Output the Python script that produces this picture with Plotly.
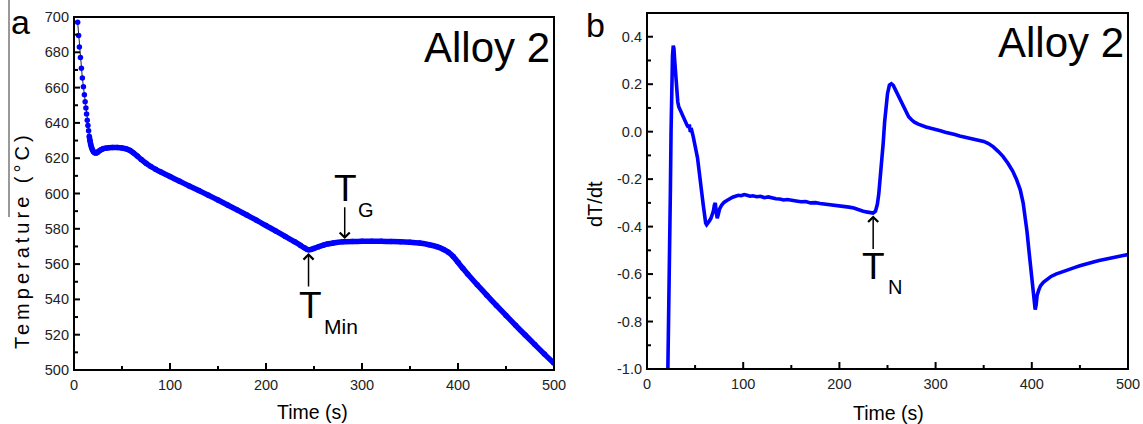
import plotly.graph_objects as go

# ---------------- data: panel a (temperature curve) ----------------
time_a_dots = [3.8, 4.8, 5.6, 6.7, 7.7, 8.7, 9.8, 10.8, 11.6, 12.4, 13.1, 13.8, 14.5, 15.2,
               15.9, 16.6, 17.4, 18.3, 19.3, 20.4, 21.6, 23.0, 24.4, 25.8, 27.3, 28.8, 30.5]
temp_a_dots = [697, 689.5, 683, 677, 671, 665.5, 660.5, 656, 652, 648.5, 645, 641.5, 638.5, 635.5,
               632.5, 630, 627.8, 626, 624.6, 623.6, 623.1, 622.9, 623.3, 623.9, 624.5, 625, 625.4]
time_a_line = [33, 36, 40, 45, 50, 55, 58, 62, 66, 70, 75, 80, 85, 90, 100, 110, 120, 130, 140,
               150, 160, 170, 180, 190, 200, 210, 220, 230, 236, 240, 243, 245, 247, 250, 255,
               260, 265, 270, 280, 290, 300, 310, 320, 330, 340, 350, 360, 370, 378, 385, 390,
               395, 400, 405, 410, 420, 430, 440, 450, 460, 470, 480, 490, 500]
temp_a_line = [625.7, 625.9, 626.0, 626.0, 625.8, 625.2, 624.5, 623.0, 621.2, 619.3, 617.1, 615.3,
               613.7, 612.3, 609.6, 606.9, 604.3, 601.7, 599.0, 596.3, 593.5, 590.7, 587.8, 584.9,
               581.8, 578.8, 575.7, 572.6, 570.6, 569.2, 568.3, 568.1, 568.3, 568.9, 569.9, 570.8,
               571.5, 572.0, 572.6, 572.8, 572.9, 572.9, 572.9, 572.8, 572.7, 572.4, 571.9, 571.0,
               569.9, 568.3, 566.7, 564.3, 561.0, 557.6, 554.4, 548.3, 542.4, 536.6, 530.9, 525.3,
               519.8, 514.4, 509.0, 503.8]

# ---------------- data: panel b (dT/dt) ----------------
time_b = [21.0, 22.5, 23.5, 24.3, 25.0, 25.7, 26.5, 27.3, 28.0, 28.6, 29.2, 30.0, 31.0, 32.0,
          33.0, 34.0, 35.5, 37.0, 38.5, 40.0, 41.5, 43.0, 44.0, 45.0, 46.5, 48.0, 49.5, 51.0,
          52.5, 54.0, 55.5, 57.0, 58.5, 60.0, 61.0, 62.0, 63.5, 65.0, 66.5, 68.0, 69.0, 70.0,
          71.0, 72.0, 73.0, 74.0, 75.5, 77.5, 80, 83, 86, 89, 92, 95, 98, 101, 104, 107, 110,
          114, 118, 122, 126, 130, 134, 138, 142, 146, 150, 155, 160, 165, 170, 175, 180, 185,
          190, 195, 200, 205, 210, 215, 220, 224, 228, 232, 235, 237.5, 239.5, 241, 242.5, 244,
          245.5, 247, 248.5, 250, 252, 254, 256, 258, 260, 263, 266, 269, 272, 275, 278, 282,
          286, 290, 295, 300, 305, 310, 315, 320, 325, 330, 335, 340, 345, 350, 355, 360, 365,
          370, 375, 380, 384, 388, 391, 393, 395, 397, 399, 401, 402.5, 403.5, 404.5, 405.5,
          407, 409, 412, 416, 420, 425, 430, 435, 440, 445, 450, 455, 460, 465, 470, 475, 480,
          485, 490, 495, 500]
dtdt_b = [-1.2, -0.85, -0.55, -0.25, 0.0, 0.2, 0.32, 0.362, 0.35, 0.31, 0.27, 0.21, 0.16, 0.125,
          0.105, 0.095, 0.088, 0.075, 0.05, 0.035, 0.028, 0.018, 0.03, 0.0, 0.005, -0.02, -0.045,
          -0.08, -0.11, -0.16, -0.2, -0.26, -0.31, -0.36, -0.385, -0.392, -0.385, -0.375, -0.365,
          -0.35, -0.335, -0.31, -0.3, -0.34, -0.365, -0.35, -0.325, -0.31, -0.298, -0.29, -0.282,
          -0.276, -0.272, -0.268, -0.27, -0.265, -0.268, -0.272, -0.27, -0.274, -0.272, -0.278,
          -0.275, -0.28, -0.283, -0.284, -0.288, -0.286, -0.29, -0.292, -0.295, -0.294, -0.3,
          -0.299, -0.303, -0.305, -0.307, -0.31, -0.312, -0.315, -0.318, -0.322, -0.33, -0.334,
          -0.338, -0.342, -0.343, -0.335, -0.305, -0.26, -0.2, -0.13, -0.05, 0.04, 0.11, 0.16,
          0.196, 0.202, 0.195, 0.178, 0.16, 0.135, 0.108, 0.085, 0.063, 0.05, 0.04, 0.032, 0.025,
          0.02, 0.014, 0.01, 0.004, -0.002, -0.006, -0.012, -0.018, -0.022, -0.026, -0.03,
          -0.034, -0.041, -0.05, -0.064, -0.083, -0.104, -0.132, -0.165, -0.2, -0.245, -0.3,
          -0.35, -0.42, -0.5, -0.59, -0.67, -0.72, -0.75, -0.73, -0.69, -0.67, -0.65, -0.635,
          -0.62, -0.61, -0.6, -0.592, -0.585, -0.578, -0.572, -0.565, -0.558, -0.552, -0.548,
          -0.543, -0.538, -0.534, -0.53, -0.526, -0.522, -0.518]

# ticks
x_ticks = [0, 100, 200, 300, 400, 500]
x_minor = [50, 150, 250, 350, 450]
y_ticks_a = [500, 520, 540, 560, 580, 600, 620, 640, 660, 680, 700]
y_minor_a = [510, 530, 550, 570, 590, 610, 630, 650, 670, 690]
y_ticks_b = [-1.0, -0.8, -0.6, -0.4, -0.2, 0.0, 0.2, 0.4]
y_ticktext_b = ["-1.0", "-0.8", "-0.6", "-0.4", "-0.2", "0.0", "0.2", "0.4"]
y_minor_b = [-0.9, -0.7, -0.5, -0.3, -0.1, 0.1, 0.3]

# annotation anchors (data coordinates)
t_min = (244.3, 566.3, 546.5)   # time, tip, tail
t_g = (282.0, 574.2, 593.0)
t_n = (235.1, -0.353, -0.501)

BLUE = "#0000ff"
FONT = "Liberation Sans, Arial, sans-serif"

fig = go.Figure()

# panel a: dotted start with thin black connector, then thick blue line
fig.add_trace(go.Scatter(
    x=time_a_dots + time_a_line, y=temp_a_dots + temp_a_line,
    mode="lines+markers", line=dict(color="#222222", width=1),
    marker=dict(color=BLUE, size=5.5), xaxis="x", yaxis="y", showlegend=False))
fig.add_trace(go.Scatter(
    x=time_a_dots[14:] + time_a_line, y=temp_a_dots[14:] + temp_a_line,
    mode="lines", line=dict(color=BLUE, width=5.5, shape="spline", smoothing=0.6),
    xaxis="x", yaxis="y", showlegend=False))

# panel b
fig.add_trace(go.Scatter(
    x=time_b, y=dtdt_b, mode="lines",
    line=dict(color=BLUE, width=3.6), xaxis="x2", yaxis="y2", showlegend=False))

W, H = 1143, 424
dom_xa = [74 / W, 554 / W]
dom_ya = [1 - 370 / H, 1 - 17 / H]
dom_xb = [647 / W, 1128 / W]
dom_yb = [1 - 369 / H, 1 - 13 / H]

axis_common = dict(showline=False, ticks="", showgrid=False, zeroline=False, automargin=False,
                   ticklabelstandoff=4,
                   tickfont=dict(family=FONT, size=14.5, color="#222222"))

fig.update_layout(
    template="none",
    width=W, height=H, margin=dict(l=0, r=0, t=0, b=0, pad=0, autoexpand=False),
    paper_bgcolor="white", plot_bgcolor="white",
    xaxis=dict(domain=dom_xa, range=[0, 500], tickmode="array", tickvals=x_ticks, anchor="y",
               **axis_common),
    yaxis=dict(domain=dom_ya, range=[500, 700], tickmode="array", tickvals=y_ticks_a, anchor="x",
               **axis_common),
    xaxis2=dict(domain=dom_xb, range=[0, 500], tickmode="array", tickvals=x_ticks, anchor="y2",
                **axis_common),
    yaxis2=dict(domain=dom_yb, range=[-1.0, 0.5], tickmode="array", tickvals=y_ticks_b,
                ticktext=y_ticktext_b, anchor="x2", **axis_common),
)

# ---- frames and inside ticks drawn as shapes tied to the axes ----
shapes = []
FRAME = dict(color="#000000", width=2)
TICK = dict(color="#000000", width=2)
for xr, yr in [("x", "y"), ("x2", "y2")]:
    shapes.append(dict(type="rect", xref=f"{xr} domain", yref=f"{yr} domain",
                       x0=0, x1=1, y0=0, y1=1, line=FRAME, layer="above"))

def xtick(xr, yr, val, length):
    shapes.append(dict(type="line", xref=xr, yref=f"{yr} domain", x0=val, x1=val,
                       ysizemode="pixel", yanchor=0, y0=0, y1=length, line=TICK, layer="above"))

def ytick(xr, yr, val, length):
    shapes.append(dict(type="line", yref=yr, xref=f"{xr} domain", y0=val, y1=val,
                       xsizemode="pixel", xanchor=0, x0=0, x1=length, line=TICK, layer="above"))

for xr, yr, yt, ym in [("x", "y", y_ticks_a, y_minor_a), ("x2", "y2", y_ticks_b, y_minor_b)]:
    for v in x_ticks[1:-1]:
        xtick(xr, yr, v, 7)
    for v in x_minor:
        xtick(xr, yr, v, 4)
    for v in yt[1:]:
        ytick(xr, yr, v, 6)
    for v in ym:
        ytick(xr, yr, v, 4)

# thin stray rule at the far left of the reference image
shapes.append(dict(type="line", xref="paper", yref="paper",
                   x0=9 / W, x1=9 / W, y0=1, y1=1 - 217 / H,
                   line=dict(color="#333333", width=1)))
fig.update_layout(shapes=shapes)

ann = []
def text(x, y, s, size, xref="paper", yref="paper", xanchor="center", yanchor="middle", angle=0):
    ann.append(dict(x=x, y=y, xref=xref, yref=yref, text=s, showarrow=False,
                    xanchor=xanchor, yanchor=yanchor, textangle=angle,
                    font=dict(family=FONT, size=size, color="black")))

def px(x, y):
    return x / W, 1 - y / H

# panel letters and titles
text(*px(20, 22), "a", 34)
text(*px(595, 25), "b", 34)
text(*px(487, 48), "Alloy 2", 42)
text(*px(1061, 43), "Alloy 2", 42)
text(*px(312, 412), "Time (s)", 19.5)
text(*px(888, 413), "Time (s)", 19.5)
text(*px(22, 240), "<span style='letter-spacing:4px'>Temperature (°C)</span>", 20, angle=-90)
text(*px(595, 204), "dT/dt", 20, angle=-90)

# arrows
for (xx, tip, tail, xr, yr) in [(t_min[0], t_min[1], t_min[2], "x", "y"),
                                (t_g[0], t_g[1], t_g[2], "x", "y"),
                                (t_n[0], t_n[1], t_n[2], "x2", "y2")]:
    ann.append(dict(x=xx, y=tip, ax=xx, ay=tail, xref=xr, yref=yr, axref=xr, ayref=yr,
                    text="", showarrow=True, arrowhead=4, arrowsize=1.3, arrowwidth=1.5,
                    arrowcolor="black"))

# T labels
text(*px(310, 305), "T", 37)
text(*px(322, 326), "Min", 21, xanchor="left")
text(*px(345, 188), "T", 37)
text(*px(356, 210), "G", 20, xanchor="left")
text(*px(873.5, 266), "T", 37)
text(*px(886, 287), "N", 20, xanchor="left")

fig.update_layout(annotations=ann)

fig.write_html("out.html",
               config={"displayModeBar": False, "staticPlot": True},
               post_script="document.body.style.margin='0px';"
                           "document.body.style.overflow='hidden';")
